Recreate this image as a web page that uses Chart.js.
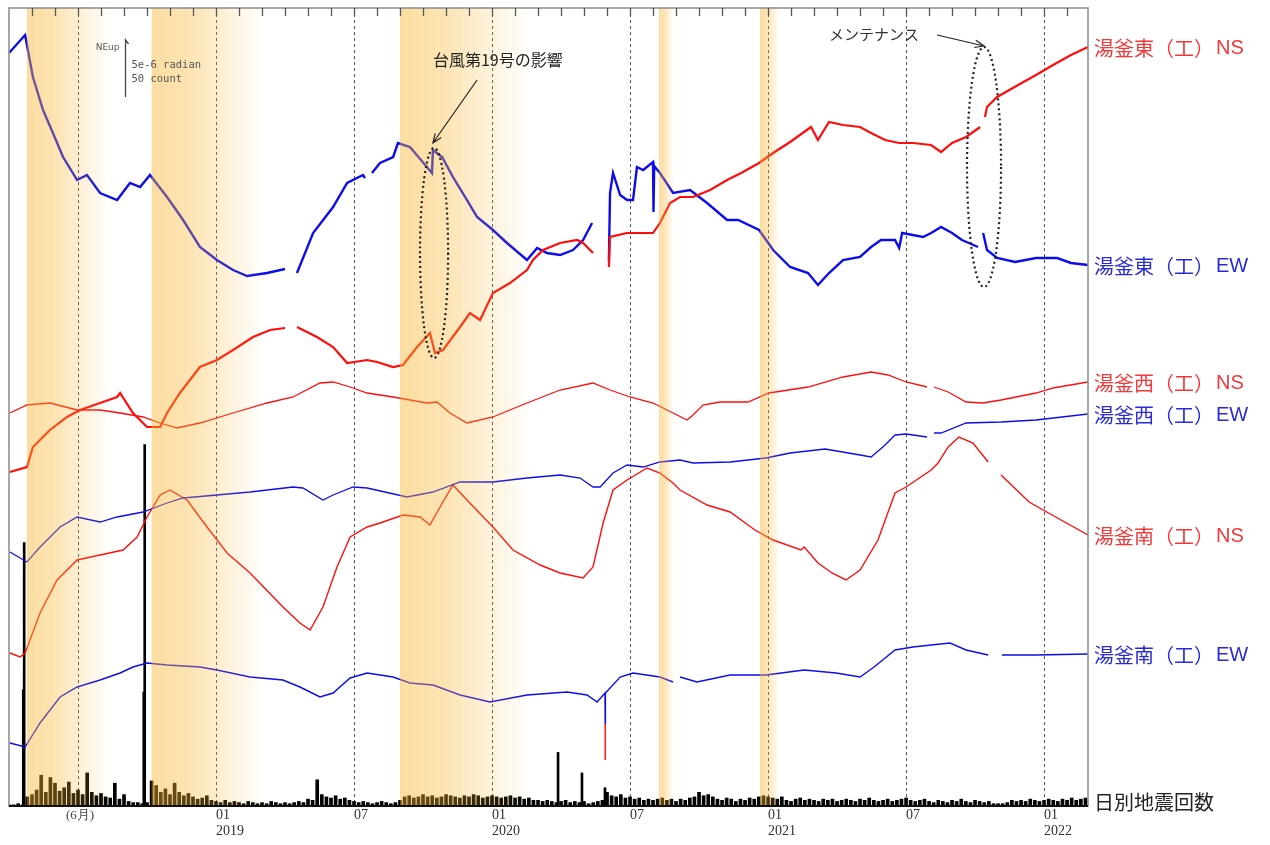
<!DOCTYPE html>
<html lang="ja">
<head>
<meta charset="utf-8">
<title>湯釜 傾斜変動と日別地震回数</title>
<script src="https://cdn.jsdelivr.net/npm/chart.js@4.4.1/dist/chart.umd.min.js"></script>
<style>
html, body { margin: 0; padding: 0; background: #fff; }
#wrap { width: 1270px; height: 845px; }
</style>
</head>
<body>
<div id="wrap"><canvas id="grafico"></canvas></div>
<script>
// x = months since 2018-04-01, tilt values in relative units (0 = bottom of plot)
var tickMonths = [3, 9, 15, 21, 27, 33, 39, 45];
var tickLabels = ["", ["01", "2019"], "07", ["01", "2020"], "07", ["01", "2021"], "07", ["01", "2022"]];
var bands = [[0.78, 4.4], [6.2, 11.1], [17.0, 22.65], [28.26, 28.9], [32.65, 33.5]];
var seriesNames = ["湯釜東（工）NS", "湯釜東（工）EW", "湯釜西（工）NS", "湯釜西（工）EW", "湯釜南（工）NS", "湯釜南（工）EW"];
var quakeName = "日別地震回数";

var higashiNS = [[0.04,334],[0.78,339],[1.04,359],[1.78,376],[2.52,389],[3.09,396],[3.96,403],[4.70,409],[4.83,413],[5.39,393],[6.0,379],[6.57,379],[6.87,393],[7.43,413],[8.30,439],[9.04,446],[9.74,456],[10.61,469],[11.35,476],[12.0,478],[12.26,null],[12.52,479],[13.39,469],[14.09,459],[14.70,443],[15.57,446],[16.0,444],[16.70,439],[17.13,441],[17.74,459],[18.30,473],[18.52,453],[18.87,456],[19.61,479],[20.04,493],[20.48,486],[21.04,513],[21.78,523],[22.52,536],[22.78,546],[23.22,556],[23.96,563],[24.70,566],[24.96,563],[25.39,553],[25.7,null],[26.08,539],[26.13,569],[26.87,573],[28.0,573],[28.30,583],[28.74,603],[29.17,609],[29.74,609],[30.48,616],[31.22,626],[31.83,633],[32.61,643],[33.22,653],[33.96,664],[34.87,679],[35.17,666],[35.65,684],[36.26,681],[37.0,679],[37.48,673],[38.09,666],[38.70,663],[39.30,663],[40.09,661],[40.52,654],[41.0,663],[41.61,669],[42.22,679],[42.32,null],[42.43,689],[42.52,699],[42.96,709],[43.87,721],[44.65,731],[45.39,741],[46.17,751],[46.91,759]];
var higashiEW = [[0,753],[0.70,771],[1.04,729],[1.48,696],[1.91,673],[2.35,649],[2.96,626],[3.39,631],[3.96,613],[4.70,606],[5.26,623],[5.70,619],[6.13,631],[6.87,609],[7.57,586],[8.30,559],[9.04,546],[9.74,536],[10.35,530],[11.22,533],[12.0,537],[12.26,null],[12.52,533],[13.22,573],[14.09,599],[14.70,623],[15.39,631],[15.48,628],[15.63,null],[15.78,633],[16.13,643],[16.70,649],[16.91,663],[17.43,659],[18.17,639],[18.39,633],[18.43,656],[18.83,649],[19.30,629],[19.91,606],[20.35,589],[21.04,576],[21.65,563],[22.52,546],[22.96,558],[23.39,553],[23.96,551],[24.52,556],[24.96,566],[25.35,583],[25.7,null],[26.08,545],[26.13,613],[26.26,633],[26.57,611],[26.87,606],[27.13,606],[27.30,639],[27.57,636],[28.0,644],[28.02,594],[28.05,640],[28.30,633],[28.87,613],[29.61,616],[30.35,603],[31.22,586],[31.70,586],[32.61,576],[33.22,556],[33.96,539],[34.74,533],[35.17,521],[35.65,533],[36.26,546],[37.0,549],[37.48,559],[37.91,566],[38.52,566],[38.70,558],[38.83,573],[39.74,569],[40.09,573],[40.52,579],[41.0,573],[41.43,566],[42.13,559],[42.24,null],[42.35,573],[42.52,556],[42.96,548],[43.74,544],[44.65,548],[45.57,548],[46.17,543],[46.91,541]];
var nishiNS = [[0.04,393],[0.78,401],[1.78,403],[2.96,396],[3.96,396],[4.83,393],[5.83,389],[6.57,383],[7.30,378],[8.30,383],[9.74,393],[11.22,403],[12.35,409],[13.52,423],[14.09,424],[14.83,419],[15.57,413],[16.70,409],[18.17,403],[18.61,404],[19.17,393],[19.91,383],[21.04,389],[22.52,403],[23.96,416],[25.39,423],[26.13,416],[27.0,409],[28.0,403],[28.87,393],[29.48,386],[29.74,391],[30.17,401],[30.91,404],[32.13,404],[33.04,413],[34.74,419],[36.26,429],[37.48,434],[38.22,431],[39.0,424],[39.91,419],[40.06,null],[40.22,419],[40.83,414],[41.61,404],[42.35,403],[43.13,406],[44.65,413],[45.39,418],[46.91,424]];
var nishiEW = [[0.04,254],[0.78,244],[1.35,259],[2.22,279],[2.96,289],[3.96,284],[4.70,289],[5.83,294],[6.87,303],[7.57,308],[9.04,311],[10.48,314],[12.35,319],[12.78,318],[13.65,306],[14.09,311],[14.96,319],[15.57,318],[17.30,309],[18.43,314],[19.61,324],[21.04,324],[22.52,328],[23.96,331],[24.83,328],[25.39,319],[25.70,319],[26.26,333],[26.87,341],[27.57,339],[28.30,344],[29.17,346],[29.74,343],[31.35,344],[32.91,348],[33.96,353],[35.48,357],[37.0,351],[37.48,349],[38.09,361],[38.52,371],[39.0,372],[39.91,369],[40.06,null],[40.22,373],[40.52,373],[41.61,383],[43.13,384],[44.65,386],[46.91,392]];
var minamiNS = [[0.04,153],[0.48,149],[0.70,153],[1.35,193],[2.09,226],[2.96,246],[3.96,251],[4.96,256],[5.57,269],[6.0,289],[6.57,311],[7.0,316],[7.74,306],[8.61,279],[9.48,253],[10.48,233],[11.91,199],[12.65,183],[13.09,176],[13.65,199],[14.26,239],[14.83,269],[15.57,279],[16.13,283],[17.13,291],[17.87,289],[18.30,281],[18.74,299],[19.30,321],[19.91,306],[21.04,279],[21.91,256],[23.09,241],[23.96,233],[24.96,228],[25.39,239],[25.83,283],[26.26,316],[26.87,326],[27.74,338],[28.30,333],[28.87,323],[29.17,316],[30.35,301],[31.35,294],[32.43,276],[33.22,266],[34.43,256],[34.57,259],[35.17,243],[35.78,233],[36.39,226],[37.0,236],[37.78,266],[38.52,313],[39.0,319],[40.09,336],[40.39,343],[40.83,359],[41.30,369],[41.91,363],[42.57,344],[42.85,null],[43.13,331],[44.35,304],[44.96,296],[46.91,271]];
var minamiEW = [[0.04,63],[0.70,59],[1.35,83],[2.22,109],[2.96,119],[3.96,126],[4.83,133],[5.39,139],[6.0,143],[6.87,141],[8.30,139],[9.04,136],[10.48,129],[11.91,126],[12.65,119],[13.52,109],[14.09,113],[14.83,128],[15.57,133],[16.70,129],[17.43,123],[18.43,121],[19.61,111],[20.91,104],[22.52,111],[24.26,114],[25.13,111],[25.57,104],[25.91,113],[25.92,83],[25.93,113],[26.57,129],[27.13,133],[28.30,129],[28.87,124],[29.0,null],[29.17,129],[29.91,124],[31.35,131],[32.91,131],[34.57,136],[35.96,133],[37.0,129],[37.61,139],[38.52,156],[39.30,159],[40.09,161],[40.91,163],[41.61,156],[42.57,151],[42.85,null],[43.17,151],[44.65,151],[46.91,152]];
var minamiJump = [[25.92,83],[25.92,46]];

// earthquake counts, one value every 0.2 month, plus the large peaks
var quakeStep = 0.2;
var quakeCounts = [1,1,2,1,8,
    10,14,27,12,25,20,13,16,21,11,14,10,29,12,9,11,8,7,20,6,10,4,3,3,2,3,
    22,18,12,15,10,20,12,9,11,8,6,7,9,5,
    4,3,5,3,4,3,2,4,3,2,3,2,4,3,2,3,2,3,4,3,6,5,
    23,10,8,7,9,6,7,5,4,3,4,3,2,3,4,3,2,3,5,
    8,9,7,8,10,8,9,7,8,10,9,8,7,9,8,10,9,7,8,9,8,7,8,9,7,8,6,7,
    5,5,4,5,4,3,4,5,3,4,3,4,2,3,4,5,
    12,9,8,10,7,8,6,7,5,6,5,6,7,5,6,4,6,5,7,8,
    12,9,10,8,6,5,7,6,4,6,5,7,6,8,9,8,7,6,8,5,
    4,6,7,5,6,5,4,6,5,6,4,5,6,5,4,6,5,7,5,4,
    5,6,4,5,6,7,5,4,5,6,4,3,5,4,3,5,4,6,4,3,
    5,4,3,4,2,2,2,3,5,4,5,4,6,5,4,5,6,5,4,6,5,7,5,6,7];
var quakeSpikes = [[0.62,102],[0.66,231],[5.86,100],[5.90,317],[23.87,47],[24.91,29],[25.91,16]];

var RED = "#ff0d0d", BLUE = "#0d0deb";

function toXY(list) {
    return list.map(function (p) { return { x: p[0], y: p[1] }; });
}

function linea(data, color, width) {
    return {
        type: "line",
        data: toXY(data),
        borderColor: color,
        borderWidth: width,
        pointRadius: 0,
        tension: 0,
        spanGaps: false,
        yAxisID: "y"
    };
}

function flecha(ctx, x0, y0, x1, y1) {
    var ang = Math.atan2(y1 - y0, x1 - x0), h = 10;
    ctx.beginPath();
    ctx.moveTo(x0, y0);
    ctx.lineTo(x1, y1);
    ctx.moveTo(x1 - h * Math.cos(ang - 0.38), y1 - h * Math.sin(ang - 0.38));
    ctx.lineTo(x1, y1);
    ctx.lineTo(x1 - h * Math.cos(ang + 0.38), y1 - h * Math.sin(ang + 0.38));
    ctx.stroke();
}

var decoraciones = {
    id: "decoraciones",
    beforeDatasetsDraw: function (chart) {
        var ctx = chart.ctx, area = chart.chartArea, xs = chart.scales.x;
        ctx.save();
        ctx.strokeStyle = "#555";
        ctx.lineWidth = 1;
        ctx.setLineDash([3, 3]);
        xs.ticks.forEach(function (t) {
            var px = Math.round(xs.getPixelForValue(t.value)) + 0.5;
            ctx.beginPath();
            ctx.moveTo(px, area.top);
            ctx.lineTo(px, area.bottom);
            ctx.stroke();
        });
        ctx.restore();
    },
    afterDatasetsDraw: function (chart) {
        var ctx = chart.ctx, area = chart.chartArea;
        var xs = chart.scales.x, ys = chart.scales.y, yq = chart.scales.yq;
        var px = function (m) { return xs.getPixelForValue(m); };
        var py = function (v) { return ys.getPixelForValue(v); };

        ctx.save();
        ctx.beginPath();
        ctx.rect(area.left, area.top, area.right - area.left, area.bottom - area.top);
        ctx.clip();
        // shaded periods, fading to the right
        bands.forEach(function (b) {
            var x0 = px(b[0]), x1 = px(b[1]);
            var g = ctx.createLinearGradient(x0, 0, x1, 0);
            g.addColorStop(0, "rgba(247,180,45,0.45)");
            g.addColorStop(0.35, "rgba(247,180,45,0.36)");
            g.addColorStop(1, "rgba(247,180,45,0)");
            ctx.fillStyle = g;
            ctx.fillRect(x0, area.top, x1 - x0, area.bottom - area.top);
        });
        ctx.restore();

        ctx.save();
        // frame and monthly ticks on top
        ctx.strokeStyle = "#8a8a8a";
        ctx.lineWidth = 1.5;
        ctx.strokeRect(area.left, area.top, area.right - area.left, area.bottom - area.top);
        ctx.strokeStyle = "#111";
        ctx.lineWidth = 2;
        ctx.beginPath();
        ctx.moveTo(area.left, area.bottom);
        ctx.lineTo(area.right, area.bottom);
        ctx.stroke();
        ctx.strokeStyle = "#555";
        ctx.lineWidth = 1.3;
        for (var m = 1; m <= 46; m++) {
            var tx = Math.round(px(m)) + 0.5;
            ctx.beginPath();
            ctx.moveTo(tx, area.top);
            ctx.lineTo(tx, area.top + 8);
            ctx.stroke();
        }

        // scale bar: 50 count = 5e-6 radian
        var sx = Math.round(px(5.04)) + 0.5;
        var sb = py(709);
        var st = sb - (yq.getPixelForValue(0) - yq.getPixelForValue(50));
        ctx.strokeStyle = "#444";
        ctx.lineWidth = 1.3;
        ctx.beginPath();
        ctx.moveTo(sx, sb);
        ctx.lineTo(sx, st);
        ctx.lineTo(sx + 3, st + 4);
        ctx.stroke();
        ctx.fillStyle = "#555";
        ctx.textBaseline = "middle";
        ctx.textAlign = "right";
        ctx.font = "9px 'DejaVu Sans'";
        ctx.fillText("NEup", sx - 6, st + 8);
        ctx.textAlign = "left";
        ctx.font = "10.5px 'DejaVu Sans Mono'";
        ctx.fillText("5e-6 radian", sx + 6, st + 25);
        ctx.fillText("50 count", sx + 6, st + 39);

        // typhoon note
        ctx.fillStyle = "#222";
        ctx.font = "16px 'Noto Sans CJK JP'";
        ctx.fillText("台風第19号の影響", px(18.43), py(746));
        ctx.strokeStyle = "#222";
        ctx.lineWidth = 1.2;
        flecha(ctx, px(20.35), py(726), px(18.43), py(663));
        ctx.lineWidth = 2.2;
        ctx.setLineDash([2, 3]);
        ctx.beginPath();
        ctx.ellipse(px(18.48), py(553), px(18.48 + 0.61) - px(18.48), py(553) - py(658), 0, 0, Math.PI * 2);
        ctx.stroke();
        ctx.setLineDash([]);

        // maintenance note
        ctx.fillStyle = "#333";
        ctx.font = "15px 'Noto Sans CJK JP'";
        ctx.fillText("メンテナンス", px(35.65), py(772));
        ctx.lineWidth = 1.2;
        flecha(ctx, px(40.35), py(771), px(42.39), py(760));
        ctx.lineWidth = 2.2;
        ctx.setLineDash([2, 3]);
        ctx.beginPath();
        ctx.ellipse(px(42.39), py(639), px(42.39 + 0.74) - px(42.39), py(639) - py(759), 0, 0, Math.PI * 2);
        ctx.stroke();
        ctx.setLineDash([]);

        // (6月) under the 2018-07 line
        ctx.fillStyle = "#444";
        ctx.textAlign = "center";
        ctx.font = "13px 'Liberation Serif'";
        ctx.fillText("(6月)", px(3) + 2, area.bottom + 10);

        // series names at the right edge: Japanese part + latin component
        ctx.textAlign = "left";
        chart.data.datasets.forEach(function (ds, i) {
            if (i >= seriesNames.length) return;
            var pts = ds.data.filter(function (p) { return p.y !== null; });
            var last = pts[pts.length - 1];
            var partes = seriesNames[i].match(/^(.*）)(.*)$/);
            var y = py(last.y) + 1;
            ctx.fillStyle = i % 2 === 0 ? "#f23838" : "#2a2ad8";
            ctx.font = "20px 'Noto Sans CJK JP'";
            ctx.fillText(partes[1], area.right + 6, y);
            var w = ctx.measureText(partes[1]).width;
            ctx.font = "20px 'Liberation Sans'";
            ctx.fillText(partes[2], area.right + 8 + w, y);
        });
        ctx.fillStyle = "#222";
        ctx.font = "20px 'Noto Sans CJK JP'";
        ctx.fillText(quakeName, area.right + 6, area.bottom - 4);
        ctx.restore();
    }
};

var ctx = document.getElementById("grafico").getContext("2d");
var myChart = new Chart(ctx, {
    type: "line",
    data: {
        datasets: [
            linea(higashiNS, RED, 2.2),
            linea(higashiEW, BLUE, 2.4),
            linea(nishiNS, RED, 1.3),
            linea(nishiEW, BLUE, 1.3),
            linea(minamiNS, RED, 1.4),
            linea(minamiEW, BLUE, 1.4),
            linea(minamiJump, RED, 1.4),
            {
                type: "bar",
                data: quakeSpikes.map(function (p) { return { x: p[0], y: p[1] }; }),
                backgroundColor: "#000",
                barThickness: 2,
                grouped: false,
                yAxisID: "yq"
            },
            {
                type: "bar",
                data: quakeCounts.map(function (c, i) { return { x: i * quakeStep, y: c }; }),
                backgroundColor: "#000",
                barThickness: 3,
                grouped: false,
                yAxisID: "yq"
            }
        ]
    },
    options: {
        responsive: true,
        maintainAspectRatio: false,
        animation: false,
        layout: { padding: { left: 9, top: 8, right: 182, bottom: 0 } },
        plugins: { legend: { display: false }, tooltip: { enabled: false } },
        scales: {
            x: {
                type: "linear",
                min: 0,
                max: 46.91,
                offset: false,
                grid: { display: false, drawTicks: false },
                border: { display: false },
                afterBuildTicks: function (scale) {
                    scale.ticks = tickMonths.map(function (m) { return { value: m }; });
                },
                afterFit: function (scale) { scale.height = 39; },
                ticks: {
                    autoSkip: false,
                    maxRotation: 0,
                    align: "start",
                    padding: 2,
                    color: "#333",
                    font: { family: "'Liberation Serif'", size: 14, lineHeight: 1.1 },
                    callback: function (value, index) { return tickLabels[index]; }
                }
            },
            y: { type: "linear", min: 0, max: 798, display: false },
            yq: { type: "linear", min: 0, max: 700, display: false }
        }
    },
    plugins: [decoraciones]
});
</script>
</body>
</html>
